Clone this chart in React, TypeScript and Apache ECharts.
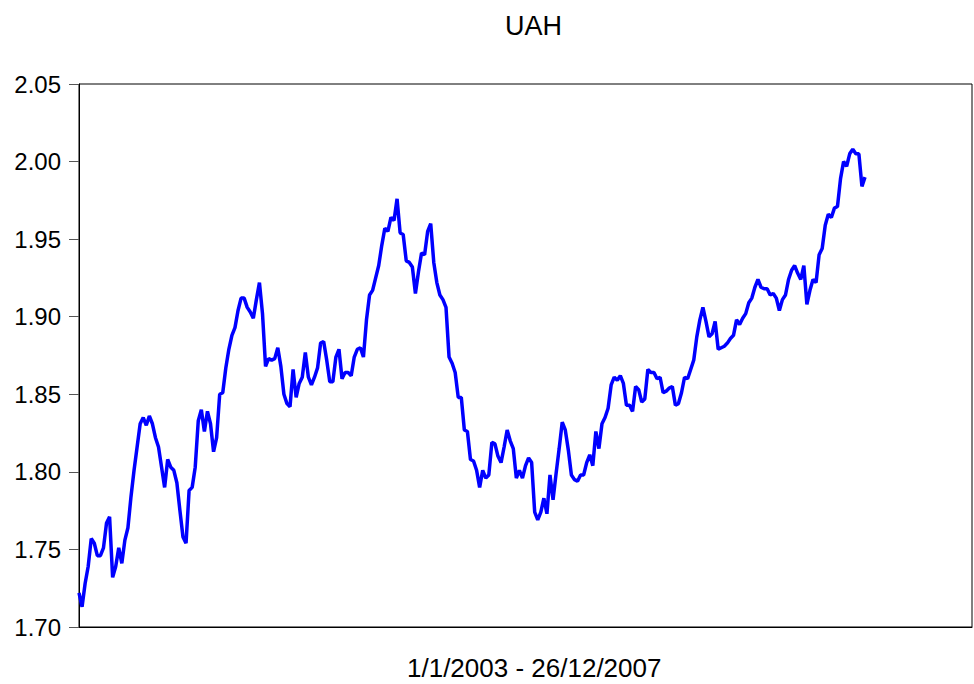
import React, { useEffect, useRef } from "react";
import * as echarts from "echarts";

const TITLE = "UAH";
const X_LABEL = "1/1/2003 - 26/12/2007";
const Y_TICKS = [1.7, 1.75, 1.8, 1.85, 1.9, 1.95, 2.0, 2.05];

// weekly UAH values (1/1/2003 .. 26/12/2007)
const seg2003a = [1.722, 1.713, 1.728, 1.739, 1.757, 1.754, 1.746, 1.746, 1.751, 1.767, 1.771, 1.732, 1.739, 1.751, 1.741, 1.756, 1.764, 1.784, 1.801, 1.816, 1.831, 1.835, 1.830, 1.836, 1.831, 1.822, 1.816];
const seg2003b = [1.803, 1.790, 1.808, 1.803, 1.801, 1.793, 1.775, 1.758, 1.754, 1.788, 1.790, 1.803, 1.833, 1.840, 1.826, 1.839, 1.831, 1.813, 1.822, 1.850, 1.851, 1.867, 1.879, 1.888, 1.893, 1.904, 1.912];
const seg2004a = [1.912, 1.906, 1.903, 1.899, 1.911, 1.922, 1.902, 1.868, 1.873, 1.872, 1.873, 1.880, 1.868, 1.850, 1.844, 1.842, 1.866, 1.848, 1.857, 1.861, 1.877, 1.861, 1.856, 1.861, 1.867, 1.883];
const seg2004b = [1.884, 1.872, 1.858, 1.858, 1.874, 1.879, 1.860, 1.864, 1.864, 1.862, 1.874, 1.879, 1.880, 1.874, 1.898, 1.914, 1.917, 1.925, 1.933, 1.946, 1.957, 1.955, 1.964, 1.962, 1.976, 1.954, 1.953];
const seg2005a = [1.936, 1.935, 1.932, 1.915, 1.929, 1.941, 1.940, 1.955, 1.960, 1.935, 1.922, 1.914, 1.911, 1.906, 1.874, 1.870, 1.864, 1.848, 1.848, 1.827, 1.826, 1.808, 1.807, 1.801, 1.790];
const seg2005b = [1.801, 1.796, 1.798, 1.819, 1.818, 1.810, 1.806, 1.816, 1.827, 1.820, 1.815, 1.796, 1.801, 1.796, 1.804, 1.809, 1.806, 1.774, 1.769, 1.774, 1.783, 1.773, 1.798, 1.782, 1.799, 1.815, 1.832];
const seg2006a = [1.827, 1.814, 1.798, 1.795, 1.794, 1.798, 1.798, 1.806, 1.811, 1.804, 1.826, 1.815, 1.831, 1.835, 1.841, 1.856, 1.861, 1.859, 1.862, 1.857, 1.843, 1.843, 1.839, 1.855, 1.853];
const seg2006b = [1.845, 1.847, 1.866, 1.864, 1.864, 1.860, 1.861, 1.851, 1.852, 1.854, 1.855, 1.843, 1.844, 1.851, 1.861, 1.860, 1.866, 1.872, 1.887, 1.898, 1.906, 1.897, 1.887, 1.889, 1.897, 1.879, 1.880];
const seg2007a = [1.881, 1.883, 1.886, 1.888, 1.898, 1.895, 1.899, 1.902, 1.909, 1.912, 1.919, 1.924, 1.919, 1.918, 1.918, 1.914, 1.915, 1.912, 1.904, 1.911, 1.914, 1.924, 1.930, 1.933];
const seg2007b = [1.928, 1.924, 1.933, 1.908, 1.917, 1.924, 1.922, 1.940, 1.944, 1.959, 1.966, 1.964, 1.970, 1.971, 1.989, 2.000, 1.997, 2.005, 2.008, 2.005, 2.005, 1.984, 1.990];

const VALUES = [
  ...seg2003a, ...seg2003b, ...seg2004a, ...seg2004b, ...seg2005a,
  ...seg2005b, ...seg2006a, ...seg2006b, ...seg2007a, ...seg2007b,
];

const FONT = "'Liberation Sans', Arial, sans-serif";

export default function App() {
  const ref = useRef<HTMLDivElement>(null);
  useEffect(() => {
    if (!ref.current) return;
    const chart = echarts.init(ref.current, null, { renderer: "svg" });
    const n = VALUES.length;
    const plotW = 893;
    const dataW = 786;
    chart.setOption({
      animation: false,
      backgroundColor: "#ffffff",
      graphic: [
        {
          type: "text",
          left: 505,
          top: 12,
          style: { text: TITLE, font: `27px ${FONT}`, fill: "#000" },
        },
        {
          type: "text",
          left: 407,
          top: 655,
          style: { text: X_LABEL, font: `26px ${FONT}`, fill: "#000" },
        },
      ],
      grid: {
        left: 79,
        right: 2,
        top: 84,
        bottom: 57,
        show: true,
        borderColor: "#000",
        borderWidth: 1,
        backgroundColor: "transparent",
      },
      xAxis: {
        type: "value",
        min: 0,
        max: ((n - 1) * plotW) / dataW,
        axisLine: { show: true, lineStyle: { color: "#000", width: 1 } },
        axisTick: { show: false },
        axisLabel: { show: false },
        splitLine: { show: false },
      },
      yAxis: {
        type: "value",
        min: Y_TICKS[0],
        max: Y_TICKS[Y_TICKS.length - 1],
        interval: 0.05,
        axisLine: { show: true, lineStyle: { color: "#000", width: 1 } },
        axisTick: { show: true, length: 10, inside: false, lineStyle: { color: "#555", width: 1 } },
        axisLabel: {
          margin: 18,
          fontSize: 24,
          fontFamily: FONT,
          color: "#000",
          formatter: (v: number) => v.toFixed(2),
        },
        splitLine: { show: false },
      },
      series: [
        {
          type: "line",
          data: VALUES.map((v, i) => [i, v]),
          showSymbol: false,
          symbol: "none",
          lineStyle: { color: "#0000ff", width: 3.5 },
          clip: false,
        },
      ],
    });
    return () => chart.dispose();
  }, []);
  return <div ref={ref} style={{ width: 974, height: 684, position: "absolute", left: 0, top: 0 }} />;
}
